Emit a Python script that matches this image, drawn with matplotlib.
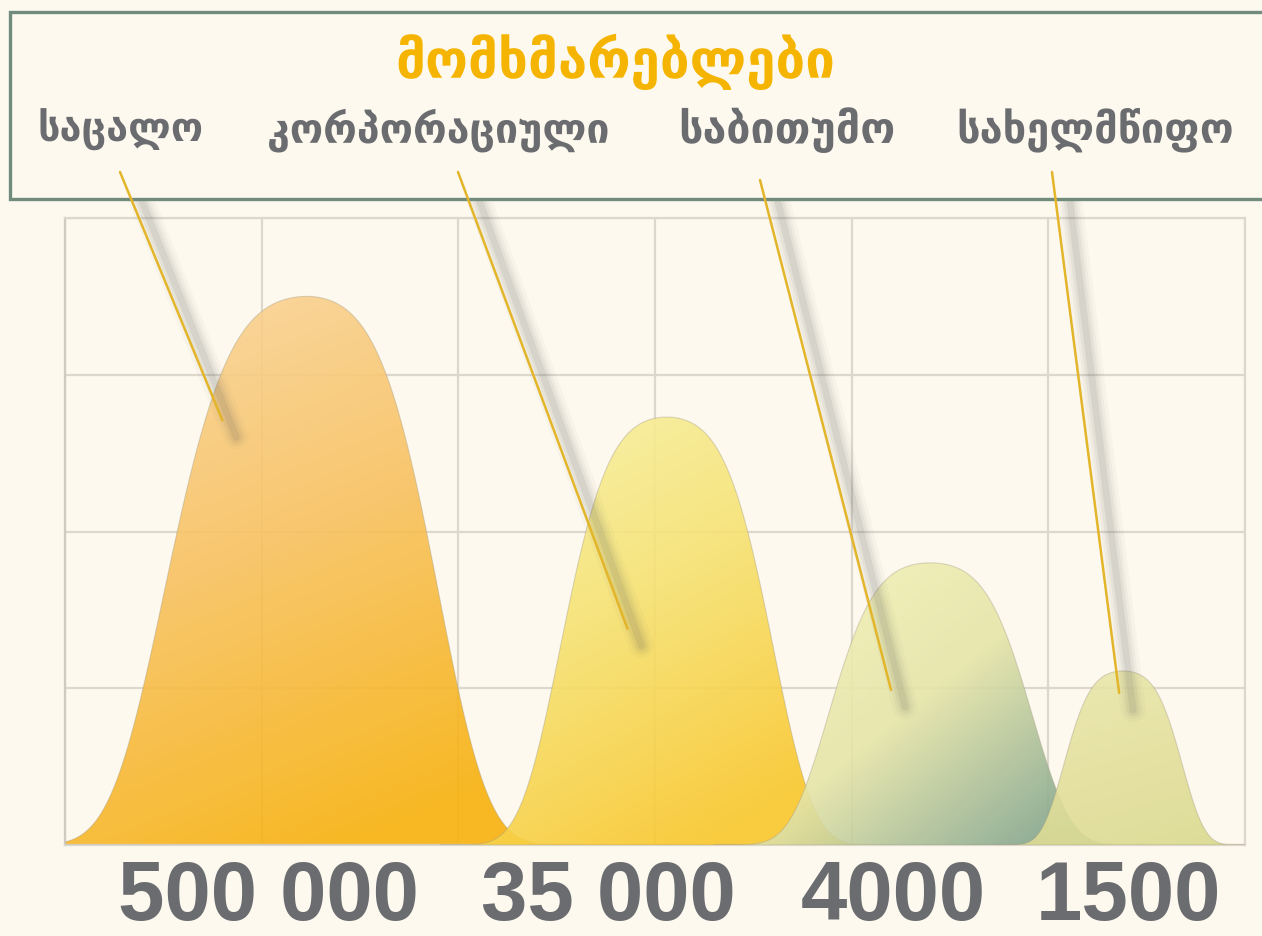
import numpy as np
import matplotlib
matplotlib.use("Agg")
import matplotlib.pyplot as plt
from matplotlib.colors import to_rgb
from matplotlib.lines import Line2D
from matplotlib.patches import Polygon, Rectangle

# data
title = "მომხმარებლები"
categories = ["საცალო", "კორპორაციული", "საბითუმო", "სახელმწიფო"]
customers = ["500 000", "35 000", "4000", "1500"]
peak_heights = [3.50, 2.73, 1.80, 1.11]
peak_centers = [1.23, 3.06, 4.40, 5.38]
width_left = [0.77, 0.575, 0.55, 0.32]
width_right = [0.71, 0.575, 0.55, 0.32]
pointer_x = [0.80, 2.86, 4.20, 5.36]
pointer_y = [2.71, 1.38, 0.99, 0.97]

BG = "#fdf9ef"
GRID = "#dcd8cc"
GRAY = "#6b6c70"
GOLD = "#f4b400"
LINE = "#e3b52a"

# gradient stops per peak: top, middle, bottom-right; and direction weights
peak_colors = [
    ("#fad8a4", "#f8c262", "#f7b10e"),
    ("#f7f3aa", "#f6e272", "#f9c72c"),
    ("#f4f2b8", "#e6e5a8", "#86a78e"),
    ("#eae8ae", "#e4e09c", "#d9d98e"),
]
grad_dir = [(0.35, 0.8, 0.0), (0.45, 0.75, 0.0), (0.75, 0.6, 0.15), (0.3, 0.7, 0.0)]

W, H = 1262, 936
fig = plt.figure(figsize=(W / 100, H / 100), dpi=100, facecolor=BG)
ax = fig.add_axes([65 / W, (H - 845) / H, 1180 / W, 627 / H])
ax.set_facecolor(BG)


def bell(x, c, h, wl, wr):
    u = np.where(x < c, (x - c) / wl, (x - c) / wr)
    return h * np.exp(-(0.25 * u ** 2 + 0.7 * u ** 4))


for i, c in enumerate(peak_centers):
    h, wl, wr = peak_heights[i], width_left[i], width_right[i]
    xs = np.linspace(c - 2.0 * wl, c + 2.0 * wr, 400)
    ys = bell(xs, c, h, wl, wr)
    verts = np.column_stack([np.r_[xs, xs[-1], xs[0]], np.r_[ys, 0, 0]])
    poly = Polygon(verts, closed=True, facecolor="none", edgecolor="#a89f86",
                   lw=0.8, alpha=0.4, zorder=3 + i)
    ax.add_patch(poly)

    n = 200
    u, v = np.meshgrid(np.linspace(0, 1, n), np.linspace(0, 1, n))
    ku, kv, off = grad_dir[i]
    t = np.clip(ku * u + kv * (1 - v) - off, 0, 1)
    c0, c1, c2 = (np.array(to_rgb(col)) for col in peak_colors[i])
    t3 = t[..., None]
    first = c0 + (c1 - c0) * np.clip(t3 * 2, 0, 1)
    rgb = np.where(t3 < 0.5, first, c1 + (c2 - c1) * np.clip(t3 * 2 - 1, 0, 1))
    img = ax.imshow(rgb, origin="lower", extent=[xs[0], xs[-1], 0, h],
                    aspect="auto", alpha=0.9, zorder=2 + i, interpolation="bilinear")
    img.set_clip_path(poly)

ax.set_xlim(0, 6)
ax.set_ylim(0, 4)
ax.set_xticks(range(7))
ax.set_yticks(range(5))
ax.grid(True, color=GRID, lw=1.6, zorder=0)
ax.set_axisbelow(True)
ax.tick_params(length=0, labelbottom=False, labelleft=False)
for side in ax.spines.values():
    side.set_color(GRID)
    side.set_linewidth(1.6)
ax.spines["left"].set_color("#cfcbc0")

# header box
box = Rectangle((10 / W, (H - 199) / H), 1.2, 187 / H, transform=fig.transFigure,
                facecolor=BG, edgecolor="#718b7c", lw=2.4, zorder=5)
fig.add_artist(box)

fig.text(615 / W, (H - 62) / H, title, ha="center", va="center", color=GOLD,
         fontsize=38, fontweight="bold", family=["DejaVu Sans"], zorder=7)

label_x = [121, 438, 787, 1095]
label_size = [28.5, 29.5, 31, 30]
for x, lab, fs in zip(label_x, categories, label_size):
    fig.text(x / W, (H - 130) / H, lab, ha="center", va="center", color=GRAY,
             fontsize=fs, fontweight="bold", family=["DejaVu Sans"], zorder=7)

number_x = [268, 608, 893, 1128]
for x, num in zip(number_x, customers):
    fig.text(x / W, 16 / H, num, ha="center", va="baseline", color=GRAY,
             fontsize=60, fontweight="bold", family=["Liberation Sans", "DejaVu Sans"])

# pointer lines with soft shadows
start_px = [(120, 172), (458, 172), (760, 180), (1052, 172)]
fig.canvas.draw()
for (sx, sy), px, py in zip(start_px, pointer_x, pointer_y):
    ex, ey = ax.transData.transform((px, py))
    sy_d = H - sy
    for lw, a in [(18, 0.035), (13, 0.05), (9, 0.07), (5, 0.1)]:
        fig.add_artist(Line2D([sx + 16, ex + 14], [sy_d - 14, ey - 17], transform=None,
                              color="#5e5e5e", lw=lw, alpha=a, solid_capstyle="round",
                              zorder=4))
    fig.add_artist(Line2D([sx, ex], [sy_d, ey], transform=None, color=LINE, lw=1.8,
                          solid_capstyle="round", zorder=6))

fig.savefig("out.png", dpi=100, facecolor=BG)
